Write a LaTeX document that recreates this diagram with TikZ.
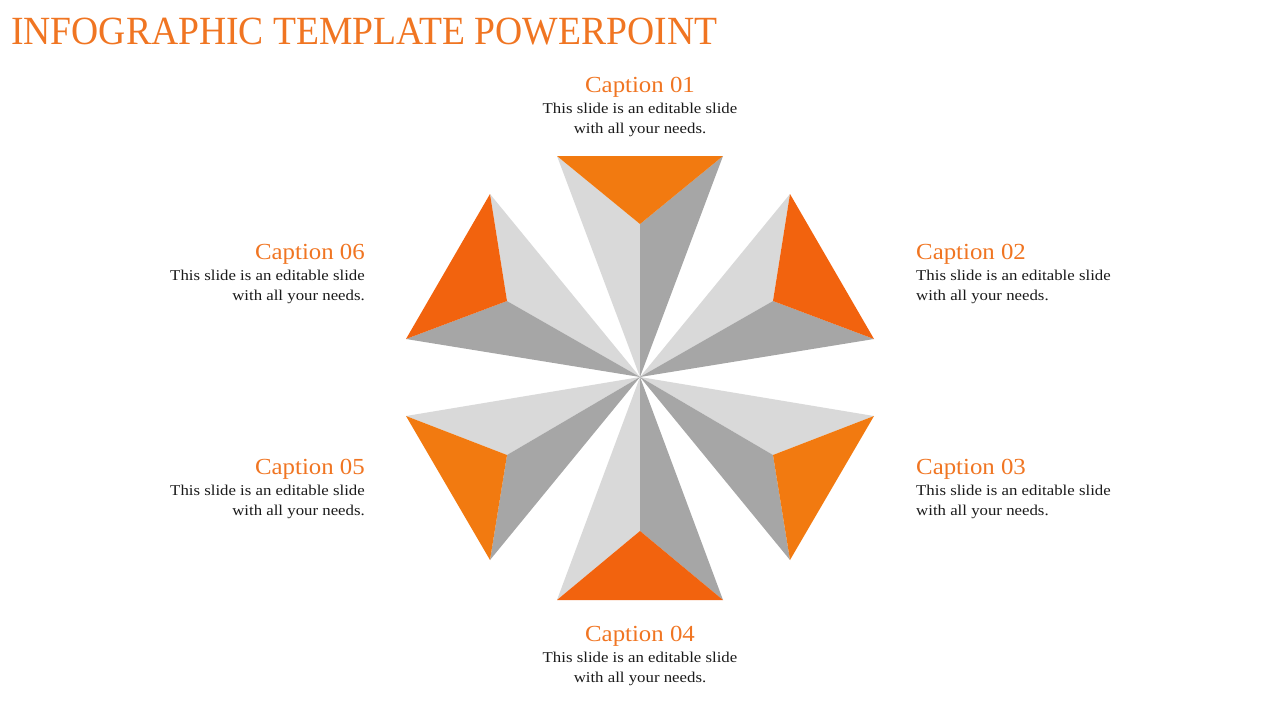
\documentclass[tikz,border=0pt]{standalone}
\usepackage{fontspec}
\setmainfont{Liberation Serif}[FakeStretch=1.08]
\newfontfamily\titlefont{Liberation Serif}[FakeStretch=0.94]
\newfontfamily\bodyfont{Liberation Serif}[FakeStretch=1.12]
\definecolor{orA}{HTML}{F27A10}
\definecolor{orB}{HTML}{F2630E}
\definecolor{titleor}{HTML}{F07522}
\definecolor{lightg}{HTML}{D9D9D9}
\definecolor{darkg}{HTML}{A6A6A6}
\definecolor{bodyc}{HTML}{1A1A1A}
\tikzset{
  captxt/.style={text=titleor, font=\fontsize{23}{26}\selectfont, inner sep=0pt},
  bodytxt/.style={text=bodyc, font=\bodyfont\fontsize{15}{20}\selectfont, inner sep=0pt},
}
\begin{document}
\begin{tikzpicture}[x=1pt,y=-1pt]
\useasboundingbox (0,0) rectangle (1280,720);
\coordinate (C) at (640,377);
% spike 1 (top)
\fill[lightg] (C) -- (557,156) -- (640,224) -- cycle;
\fill[darkg] (C) -- (640,224) -- (723,156) -- cycle;
\fill[orA] (557,156) -- (723,156) -- (640,224) -- cycle;
% spike 2 (upper right)
\fill[lightg] (C) -- (790,194) -- (773,301) -- cycle;
\fill[darkg] (C) -- (773,301) -- (874,339) -- cycle;
\fill[orB] (790,194) -- (874,339) -- (773,301) -- cycle;
% spike 3 (lower right)
\fill[lightg] (C) -- (874,416) -- (773,455) -- cycle;
\fill[darkg] (C) -- (773,455) -- (790,560) -- cycle;
\fill[orA] (874,416) -- (790,560) -- (773,455) -- cycle;
% spike 4 (bottom)
\fill[lightg] (C) -- (557,600) -- (640,531) -- cycle;
\fill[darkg] (C) -- (640,531) -- (723,600) -- cycle;
\fill[orB] (557,600) -- (723,600) -- (640,531) -- cycle;
% spike 5 (lower left)
\fill[lightg] (C) -- (406,416) -- (507,455) -- cycle;
\fill[darkg] (C) -- (507,455) -- (490,560) -- cycle;
\fill[orA] (406,416) -- (490,560) -- (507,455) -- cycle;
% spike 6 (upper left)
\fill[lightg] (C) -- (490,194) -- (507,301) -- cycle;
\fill[darkg] (C) -- (507,301) -- (406,339) -- cycle;
\fill[orB] (490,194) -- (406,339) -- (507,301) -- cycle;

\node[anchor=base west, text=titleor, font=\titlefont\fontsize{40}{44}\selectfont, inner sep=0pt] (title) at (11,44) {INFOGRAPHIC TEMPLATE POWERPOINT};

\node[captxt, anchor=base] (c1) at (640,92) {Caption 01};
\node[bodytxt, anchor=base, align=center] (b1) at (640,133) {This slide is an editable slide\\with all your needs.};

\node[captxt, anchor=base west] (c2) at (916,259) {Caption 02};
\node[bodytxt, anchor=base west, align=left] (b2) at (916,300) {This slide is an editable slide\\with all your needs.};

\node[captxt, anchor=base west] (c3) at (916,474) {Caption 03};
\node[bodytxt, anchor=base west, align=left] (b3) at (916,515) {This slide is an editable slide\\with all your needs.};

\node[captxt, anchor=base] (c4) at (640,641) {Caption 04};
\node[bodytxt, anchor=base, align=center] (b4) at (640,682) {This slide is an editable slide\\with all your needs.};

\node[captxt, anchor=base east] (c5) at (365,474) {Caption 05};
\node[bodytxt, anchor=base east, align=right] (b5) at (365,515) {This slide is an editable slide\\with all your needs.};

\node[captxt, anchor=base east] (c6) at (365,259) {Caption 06};
\node[bodytxt, anchor=base east, align=right] (b6) at (365,300) {This slide is an editable slide\\with all your needs.};
\end{tikzpicture}
\end{document}
